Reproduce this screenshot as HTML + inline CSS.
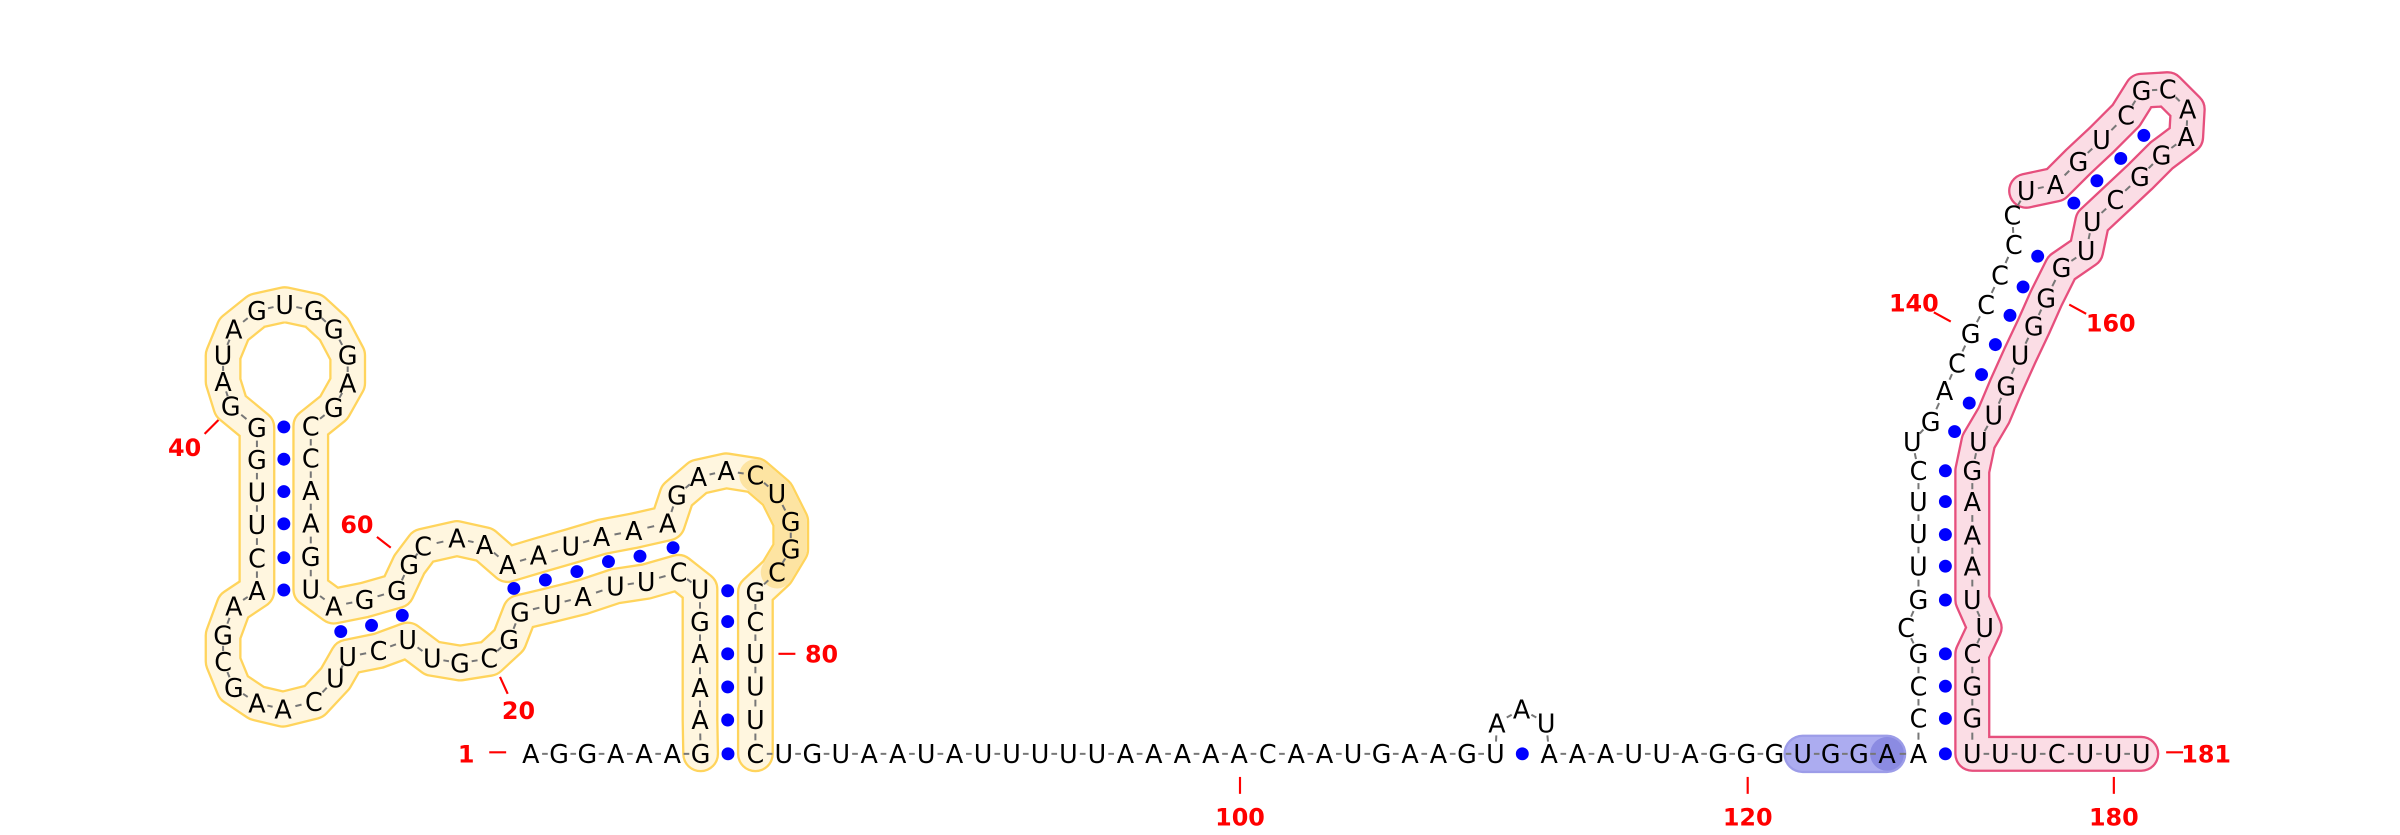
<!DOCTYPE html>
<html><head><meta charset="utf-8"><title>RNA secondary structure</title>
<style>
html,body{margin:0;padding:0;background:#fff;}
svg{display:block;}
.nt{font-family:"DejaVu Sans","Liberation Sans",sans-serif;font-size:16.5px;fill:#000;}
.lbl{font-family:"DejaVu Sans","Liberation Sans",sans-serif;font-size:15.5px;font-weight:bold;fill:#ff0000;}
</style></head>
<body>
<svg id="chart" width="2400" height="835" viewBox="0 0 1560 542.75" xmlns="http://www.w3.org/2000/svg">
<g id="bands"></g>
<g id="backbone"></g>
<g id="pairs"></g>
<g id="nts"></g>
<g id="labels"></g>
</svg>
<script>
const seq = "AGGAAAG"+"AAAGU"+"CUUAUGGCGUUCUUCAAGCGAA"+"CUUGG"+"G"+"AUAGUGGGA"+"G"+"CCAAGU"+"AGGG"+"C"+"AAAAUAAA"+"GAACUGGCGCUUUC"+
  "UGUAAUAUUUUUAAAAACAAUGAAGU"+"AAU"+"AAAUUAGGGUGGAA"+"CCGCGUUUCUGACGCCCCU"+"AGUCGCAAGGCUUGGGUGUU"+"GAAAUUCGGUUUCUUUU";
const pairs = [[7,83],[8,82],[9,81],[10,80],[11,79],[12,78],
  [13,69],[14,68],[15,67],[16,66],[17,65],[18,64],
  [23,59],[24,58],[25,57],
  [34,56],[35,55],[36,54],[37,53],[38,52],[39,51],
  [109,113],
  [126,175],[127,174],[128,173],[129,172],[131,170],[132,169],[133,168],[134,167],[135,166],
  [137,165],[138,164],[139,163],[140,162],[141,161],[142,160],[143,159],
  [146,157],[147,156],[148,155],[149,154]];
const labelNums = [1,20,40,60,80,100,120,140,160,180,181];
const labelPos = {1:[303,490],20:[337,462],40:[120,291],60:[232,341],80:[534,425],100:[806,531],120:[1136,531],140:[1244,197],160:[1372,210],180:[1374,531],181:[1434,490]};
const labelTick = {1:[318,489,329,489],20:[325,440,330,451],40:[133,282,142,273],60:[245,349,254,356],80:[506,425,517,425],100:[806,505,806,516],120:[1136,505,1136,516],140:[1257,203,1268,209],160:[1345,198,1356,204],180:[1374,505,1374,516],181:[1408,489,1419,489]};

const P = [null];
for(let i=1;i<=7;i++) P.push([345+18.4*(i-1),490]);
[468,447,425,404,383].forEach(y=>P.push([455,y]));
[[441,372],[420,378],[400,381],[379,388],[359,393],[338,398],[331,416],[318,428],[299,431],[281,428],[265,416],[246,423],[226,427],[218,441],[204,456],[184,461],[167,457],[152,447],[145,430],[145,413],[152,394],[167,384]].forEach(p=>P.push(p));
[363,341,320,299,278].forEach(y=>P.push([167,y]));
P.push([150,264]);
[[145,248],[145,231],[152,214],[167,202],[185,198],[204,202],[217,214],[226,231],[226,249]].forEach(p=>P.push(p));
P.push([217,265]);
[277,298,319,340,362,383].forEach(y=>P.push([202,y]));
[[217,394],[237,390],[258,384],[266,367],[275,355],[297,350],[315,354],[330,367],[350,361],[371,355],[391,349],[412,345],[434,340],
 [440,322],[454,310],[472,306],[491,309],[505,321],[514,339],[514,357],[505,372],[491,385],[491,404],[491,425],[491,446],[491,468],[491,490]].forEach(p=>P.push(p));
for(let i=84;i<=109;i++) P.push([491+18.5*(i-83),490]);
[[973,470],[989,461],[1005,470]].forEach(p=>P.push(p));
for(let i=113;i<=125;i++) P.push([1007+18.3*(i-113),490]);
P.push([1247,490]);
[[1247,467],[1247,446],[1247,425],[1239,408],[1247,390],[1247,368],[1247,347],[1247,326],[1247,306],[1243,287],[1255,274],[1264,254],
 [1272,236],[1281,217],[1291,198],[1300,179],[1309,159],[1308,140],[1317,124],[1336,120],[1351,105],[1366,91],[1382,75],[1392,59],[1409,58],
 [1422,71],[1421,89],[1405,101],[1391,115],[1375,130],[1360,144],[1356,163],[1340,174],[1330,194],[1322,212],[1313,231],[1304,251],[1296,270],[1286,287],
 [1282,306],[1282,326],[1282,348],[1282,368],[1282,390],[1290,408],[1282,425],[1282,446],[1282,467],[1282,490]].forEach(p=>P.push(p));
for(let i=176;i<=181;i++) P.push([1282+18.3*(i-175),490]);

const NS="http://www.w3.org/2000/svg";
function mk(tag,attrs,parent){const e=document.createElementNS(NS,tag);for(const k in attrs)e.setAttribute(k,attrs[k]);parent.appendChild(e);return e;}
function pathFor(a,b){let d="";for(let i=a;i<=b;i++)d+=(i===a?"M":"L")+P[i][0]+" "+P[i][1]+" ";return d;}

const bands=document.getElementById('bands');
function band(a,b,fill,stroke,w,name){
  const o=mk('path',{d:pathFor(a,b),fill:'none',stroke:stroke,'stroke-width':w+3,'stroke-linejoin':'round','stroke-linecap':'round'},bands);
  
  
  const f=mk('path',{d:pathFor(a,b),fill:'none',stroke:fill,'stroke-width':w,'stroke-linejoin':'round','stroke-linecap':'round'},bands);
  
  
}
band(7,83,'#fff6df','#ffd45c',21,'yellow-domain-band');
const dk=mk('path',{d:pathFor(73,77),fill:'none',stroke:'#fde4a2','stroke-width':21,'stroke-linejoin':'round','stroke-linecap':'round'},bands);


band(122,125,'#acacf0','#9c9ce8',22,'blue-motif-band');
const bd=mk('circle',{cx:P[125][0],cy:P[125][1],r:11,fill:'#8b8be2'},bands);


const pk='#e64f7d';
const po=mk('path',{d:pathFor(145,181),fill:'none',stroke:pk,'stroke-width':23.5,'stroke-linejoin':'round','stroke-linecap':'round'},bands);


const pf=mk('path',{d:pathFor(145,181),fill:'none',stroke:'#fbdde5','stroke-width':20.5,'stroke-linejoin':'round','stroke-linecap':'round'},bands);



const bb=document.getElementById('backbone');
for(let i=1;i<181;i++){
  const p=P[i],q=P[i+1];
  const dx=q[0]-p[0],dy=q[1]-p[1];
  const L=mk('line',{x1:p[0]+dx*0.4,y1:p[1]+dy*0.4,x2:p[0]+dx*0.6,y2:p[1]+dy*0.6,stroke:'#777','stroke-width':1.3},bb);
  
  
}
const pg=document.getElementById('pairs');
pairs.forEach(([a,b])=>{
  const c=mk('circle',{cx:(P[a][0]+P[b][0])/2,cy:(P[a][1]+P[b][1])/2,r:4.2,fill:'#0000ff'},pg);
  
  
});
const ng=document.getElementById('nts');
for(let i=1;i<=181;i++){
  const t=mk('text',{x:P[i][0],y:P[i][1]+6,'text-anchor':'middle',class:'nt'},ng);
  t.textContent=seq[i-1];
  
  
}
const lg=document.getElementById('labels');
labelNums.forEach(n=>{
  const tk=labelTick[n];
  const l=mk('line',{x1:tk[0],y1:tk[1],x2:tk[2],y2:tk[3],stroke:'#ff0000','stroke-width':1.4},lg);
  
  
  const t=mk('text',{x:labelPos[n][0],y:labelPos[n][1]+5.5,'text-anchor':'middle',class:'lbl'},lg);
  t.textContent=String(n);
  
  
});
</script>
</body></html>
